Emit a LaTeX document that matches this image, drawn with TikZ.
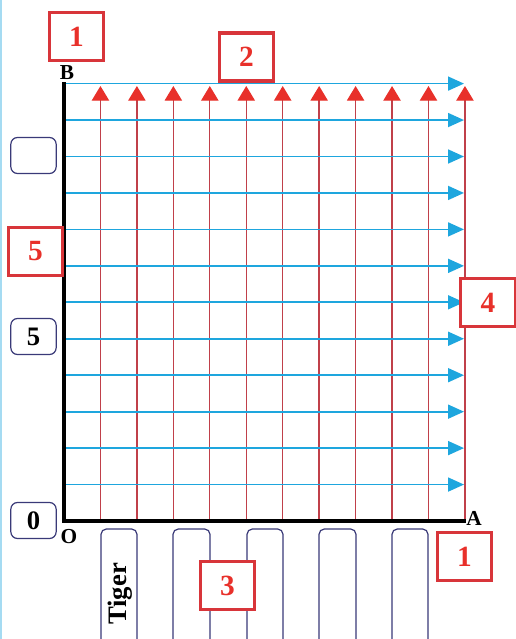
\documentclass[tikz,border=0pt]{standalone}
\usepackage{fontspec}
\setmainfont{Liberation Serif}
\usetikzlibrary{arrows.meta}
\definecolor{boxred}{HTML}{D8353A}
\definecolor{arrred}{HTML}{E8302A}
\definecolor{linered}{HTML}{C0404A}
\definecolor{gridblue}{HTML}{1EA6DE}
\definecolor{navy}{HTML}{3A3A78}
\tikzset{
  redbox/.style={draw=boxred, line width=2.3pt, fill=white, minimum width=41pt, minimum height=36pt, inner sep=0pt, text=arrred, font=\fontsize{22}{22}\selectfont\bfseries},
  valbox/.style={draw=navy, line width=0.9pt, rounded corners=5pt, fill=white, minimum width=34pt, minimum height=27pt, inner sep=0pt, font=\fontsize{20}{20}\selectfont\bfseries},
  axislabel/.style={font=\fontsize{16}{16}\selectfont\bfseries, inner sep=0pt},
  redline/.style={draw=linered, line width=1pt, -{Triangle[length=11pt,width=13pt,color=arrred]}},
  blueline/.style={draw=gridblue, line width=1.3pt, -{Triangle[length=12pt,width=10.5pt,color=gridblue]}},
  axisline/.style={draw=black, line width=3pt},
  catbar/.style={draw=navy, line width=0.9pt, rounded corners=4pt},
}
\begin{document}
\begin{tikzpicture}[x=0.75pt, y=-0.75pt]
\useasboundingbox (0,0) rectangle (516,639);
\fill[white] (0,0) rectangle (516,639);
\draw[gridblue!40, line width=1pt] (1,0) -- (1,639);
% red vertical arrows
\foreach \i in {1,...,11} {
  \coordinate (rb\i) at ({64+36.45*\i},521);
  \coordinate (rt\i) at ({64+36.45*\i},86);
  \draw[redline] (rb\i) -- (rt\i);
}
% blue horizontal arrows
\foreach \j in {1,...,12} {
  \coordinate (bl\j) at (64,{521-36.45*\j});
  \coordinate (br\j) at (464,{521-36.45*\j});
  \draw[blueline] (bl\j) -- (br\j);
}
% axes
\coordinate (B) at (64,82);
\coordinate (O) at (64,521);
\coordinate (A) at (466,521);
\draw[axisline, line join=miter] (B) -- (O) -- (A);
\node[axislabel] (labB) at (67,73) {B};
\node[axislabel] (labO) at (69,537) {O};
\node[axislabel] (labA) at (474,518) {A};
% category bars
\foreach \a/\b in {101/137, 173/210, 247/283, 319/356, 392/428} {
  \draw[catbar] (\a,645) -- (\a,529) -- (\b,529) -- (\b,645);
}
\node[rotate=90, font=\fontsize{20}{20}\selectfont\bfseries, inner sep=0pt] (tiger) at (120,594) {Tiger};
% value boxes
\node[valbox] (v1) at (33.5,155.5) {};
\node[valbox] (v2) at (33.5,336.5) {5};
\node[valbox] (v3) at (33.5,520.5) {0};
% red numbered boxes
\node[redbox] (n1) at (76.5,36.5) {1};
\node[redbox] (n2) at (246.5,57) {2};
\node[redbox] (n5) at (35.5,251.5) {5};
\node[redbox] (n4) at (488,302.5) {4};
\node[redbox] (n3) at (227.5,585.5) {3};
\node[redbox] (n1b) at (464.5,556.5) {1};
\end{tikzpicture}
\end{document}
